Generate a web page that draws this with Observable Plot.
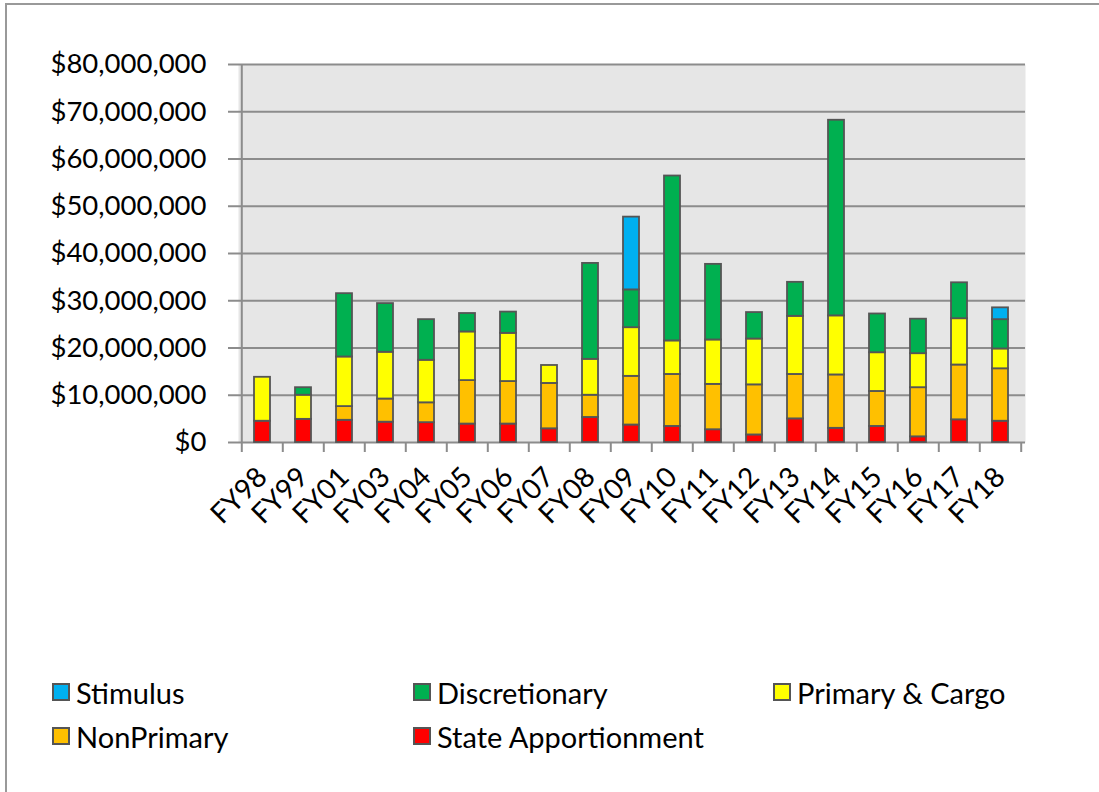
<!DOCTYPE html>
<html><head><meta charset="utf-8">
<script src="https://cdn.jsdelivr.net/npm/d3@7"></script>
<script src="https://cdn.jsdelivr.net/npm/@observablehq/plot@0.6"></script>
<style>
body{margin:0;background:#fff;font-family:Lato,"Open Sans",sans-serif;width:1099px;height:792px;overflow:hidden;position:relative;}
#frame{position:absolute;left:5px;top:3px;width:1100px;height:800px;border-left:2px solid #999;border-top:2px solid #999;box-sizing:border-box;}
#chart{position:absolute;left:0;top:0;}
.item{position:absolute;height:40px;display:flex;align-items:center;font-size:29px;color:#000;white-space:nowrap;}
.sw{width:14px;height:14px;border:2px solid #555;margin-right:6px;flex:none;}
</style></head>
<body>
<div id="frame"></div>
<div id="chart"></div>
<div id="legend"></div>
<script>
const years = ["FY98","FY99","FY01","FY03","FY04","FY05","FY06","FY07","FY08","FY09","FY10","FY11","FY12","FY13","FY14","FY15","FY16","FY17","FY18"];
// values in millions of dollars
const stateApportionment = [4.5,4.9,4.7,4.3,4.2,3.9,3.9,2.9,5.3,3.7,3.4,2.7,1.6,5.0,3.0,3.4,1.2,4.8,4.5];
const nonPrimary        = [0,0,2.9,4.9,4.2,9.2,9.0,9.6,4.7,10.3,11.0,9.6,10.6,9.4,11.3,7.4,10.4,11.6,11.1];
const primaryCargo      = [9.3,5.1,10.5,9.9,9.0,10.3,10.2,3.8,7.6,10.3,7.1,9.4,9.7,12.3,12.5,8.2,7.2,9.8,4.2];
const discretionary     = [0,1.6,13.4,10.3,8.6,3.9,4.5,0,20.3,8.0,34.9,16.0,5.6,7.2,41.4,8.2,7.3,7.6,6.2];
const stimulus          = [0,0,0,0,0,0,0,0,0,15.4,0,0,0,0,0,0,0,0,2.5];
const yTicks = [0,10e6,20e6,30e6,40e6,50e6,60e6,70e6,80e6];

const seriesNames = ["State Apportionment","NonPrimary","Primary & Cargo","Discretionary","Stimulus"];
const seriesValues = [stateApportionment,nonPrimary,primaryCargo,discretionary,stimulus];
const seriesColors = ["#ff0000","#ffc000","#ffff00","#00b050","#00b0f0"];

const data = [];
seriesNames.forEach((s,si)=>{
  years.forEach((y,i)=>{
    const v = seriesValues[si][i];
    if (v > 0) data.push({year:y, series:s, order:si, value:v*1e6});
  });
});

const W = 1099, H = 600;
const mL = 238, mR = W - 1025, mT = 64, mB = H - 442;
const step = (W - mL - mR) / years.length;
const fmt = d3.format(",");

const chart = Plot.plot({
  width: W, height: H,
  marginLeft: mL, marginRight: mR, marginTop: mT, marginBottom: mB,
  style: {fontFamily: "Lato, 'Open Sans', sans-serif", background: "transparent", color: "#000"},
  x: {domain: years, paddingInner: 0.6, paddingOuter: 0.3, label: null},
  y: {domain: [0, 80e6], label: null},
  color: {domain: seriesNames, range: seriesColors},
  marks: [
    Plot.frame({fill: "#e6e6e6", stroke: null}),
    Plot.gridY(yTicks, {stroke: "#8c8c8c", strokeOpacity: 1, strokeWidth: 2}),
    Plot.ruleX([years[0]], {dx: -step/2, y1: 0, y2: 80e6, stroke: "#8c8c8c", strokeWidth: 2}),
    Plot.axisY({ticks: yTicks, tickFormat: d => "$" + fmt(d), tickSize: 10, tickPadding: 22, fontSize: 27.5, stroke: "#8c8c8c", strokeWidth: 2, strokeOpacity: 1}),
    Plot.axisX({tickSize: 10, tickFormat: () => "", dx: -step/2, stroke: "#8c8c8c", strokeWidth: 2, strokeOpacity: 1}),
    Plot.axisX({ticks: [years[years.length-1]], tickSize: 10, tickFormat: () => "", dx: step/2, stroke: "#8c8c8c", strokeWidth: 2, strokeOpacity: 1}),
    Plot.axisX({tickSize: 0, tickRotate: -45, tickPadding: 30, fontSize: 28}),
    Plot.barY(data, Plot.stackY({x: "year", y: "value", fill: "series", order: "order", stroke: "#555", strokeWidth: 1.8}))
  ]
});
document.getElementById("chart").appendChild(chart);

const legendPos = [
  {name:"Stimulus", left:52, cy:692},
  {name:"Discretionary", left:413, cy:692},
  {name:"Primary & Cargo", left:773, cy:692},
  {name:"NonPrimary", left:52, cy:736},
  {name:"State Apportionment", left:413, cy:736}
];
const leg = document.getElementById("legend");
legendPos.forEach(p => {
  const el = document.createElement("div");
  el.className = "item";
  el.style.left = p.left + "px";
  el.style.top = (p.cy - 20) + "px";
  const sw = document.createElement("div");
  sw.className = "sw";
  sw.style.background = seriesColors[seriesNames.indexOf(p.name)];
  el.appendChild(sw);
  const t = document.createElement("span");
  t.textContent = p.name;
  el.appendChild(t);
  leg.appendChild(el);
});
</script>
</body></html>
